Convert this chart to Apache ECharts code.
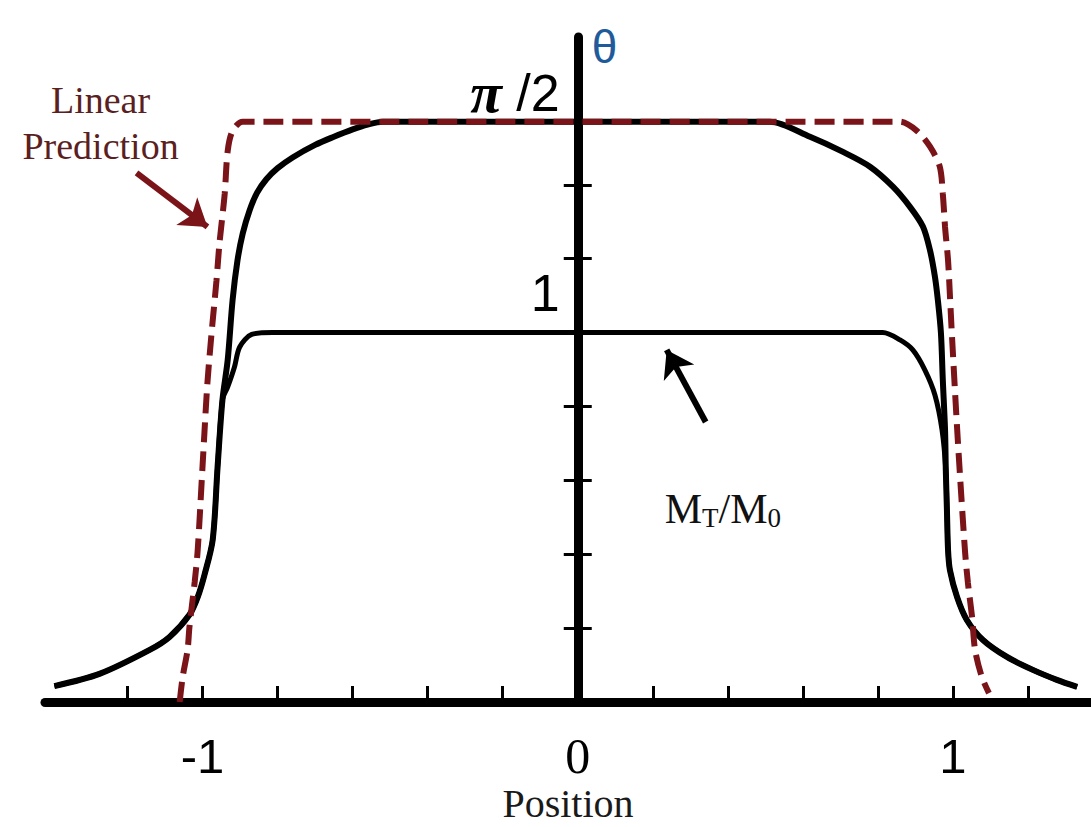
<!DOCTYPE html>
<html>
<head>
<meta charset="utf-8">
<script src="https://cdn.jsdelivr.net/npm/echarts@6/dist/echarts.min.js"></script>
<style>
  html, body { margin: 0; padding: 0; background: #ffffff; }
  #chart { width: 1091px; height: 827px; }
</style>
</head>
<body>
<div id="chart"></div>
<script>
// Tilt angle profile θ(position), reaching π/2 in the centre
const thetaProfile = [
  [-1.395, 0.043], [-1.275, 0.076], [-1.141, 0.141], [-1.088, 0.176],
  [-1.035, 0.236], [-1.013, 0.284], [-0.995, 0.344], [-0.973, 0.439],
  [-0.960, 0.636], [-0.947, 0.818], [-0.933, 0.926], [-0.920, 1.088],
  [-0.907, 1.195], [-0.893, 1.268], [-0.875, 1.330], [-0.855, 1.378],
  [-0.830, 1.415], [-0.800, 1.445], [-0.760, 1.474], [-0.700, 1.508],
  [-0.650, 1.530], [-0.600, 1.550], [-0.560, 1.563], [-0.520, 1.5708],
  [-0.470, 1.5708], [0.460, 1.5708],
  [0.512, 1.5708], [0.619, 1.530], [0.707, 1.489], [0.779, 1.449],
  [0.840, 1.395], [0.885, 1.341], [0.920, 1.287], [0.939, 1.222],
  [0.952, 1.151], [0.960, 1.086], [0.968, 0.999], [0.973, 0.872],
  [0.979, 0.736], [0.981, 0.628], [0.984, 0.520], [0.987, 0.411],
  [0.992, 0.357], [1.011, 0.284], [1.037, 0.222], [1.080, 0.168],
  [1.144, 0.122], [1.213, 0.087], [1.277, 0.060], [1.331, 0.041]
];

// Normalised magnetisation M_T/M_0, flat at 1 in the centre
const momentProfile = [
  [-1.395, 0.043], [-1.275, 0.076], [-1.141, 0.141], [-1.088, 0.176],
  [-1.035, 0.236], [-1.013, 0.284], [-0.995, 0.344], [-0.973, 0.439],
  [-0.960, 0.636], [-0.947, 0.818], [-0.933, 0.853], [-0.915, 0.907],
  [-0.901, 0.961], [-0.869, 0.995], [-0.813, 1.000], [-0.760, 1.000],
  [0.760, 1.000], [0.813, 1.000], [0.859, 0.980], [0.893, 0.953],
  [0.925, 0.899], [0.952, 0.831], [0.971, 0.736], [0.981, 0.628],
  [0.984, 0.520], [0.987, 0.411], [0.992, 0.357], [1.011, 0.284],
  [1.037, 0.222], [1.080, 0.168], [1.144, 0.122], [1.213, 0.087],
  [1.277, 0.060], [1.331, 0.041]
];

// Linear prediction of θ
const linearPrediction = [
  [-1.061, 0.000], [-1.053, 0.068], [-1.040, 0.141], [-1.035, 0.203],
  [-1.021, 0.325], [-1.013, 0.411], [-1.000, 0.640], [-0.995, 0.730],
  [-0.987, 0.865], [-0.976, 0.999], [-0.963, 1.140], [-0.955, 1.241],
  [-0.941, 1.376], [-0.933, 1.492], [-0.920, 1.546], [-0.893, 1.5708],
  [-0.840, 1.5708], [0.800, 1.5708], [0.859, 1.5708],
  [0.904, 1.546], [0.939, 1.503], [0.965, 1.449], [0.973, 1.376],
  [0.979, 1.286], [0.987, 1.195], [0.992, 1.100], [0.997, 0.999],
  [1.013, 0.709], [1.032, 0.411], [1.040, 0.322], [1.051, 0.230],
  [1.059, 0.141], [1.077, 0.068], [1.096, 0.024]
];

const xTickValues = [-1.2, -1, -0.8, -0.6, -0.4, -0.2, 0.2, 0.4, 0.6, 0.8, 1, 1.2];
const xLabelValues = [-1, 0, 1];
const yTickValues = [0.2, 0.4, 0.6, 0.8, 1.0, 1.2, 1.4];
const yLabelValues = [1, Math.PI / 2];

// Annotation anchors (data coordinates)
const predictionArrow = [[-1.176, 1.432], [-0.987, 1.286]];
const momentArrow = [[0.341, 0.758], [0.237, 0.953]];
const predictionNote = [-1.272, 1.567];
const momentNote = [0.387, 0.52];

const MAROON = '#7a1418';
const SERIF = '"Liberation Serif", "Times New Roman", serif';
const SANS = '"Liberation Sans", Arial, sans-serif';
const GRID_LEFT = 45;

function arrowLine(points, color) {
  return {
    silent: true,
    symbol: ['none', 'arrow'],
    symbolSize: 26,
    label: { show: false },
    lineStyle: { color: color, width: 6, type: 'solid' },
    itemStyle: { color: color },
    emphasis: { disabled: true },
    data: [[{ coord: points[0] }, { coord: points[1] }]]
  };
}

function noteMark(coord, text, rich) {
  return {
    silent: true,
    symbol: 'rect',
    symbolSize: 1,
    itemStyle: { color: 'rgba(0,0,0,0)' },
    emphasis: { disabled: true },
    label: { show: true, position: 'inside', formatter: text, rich: rich, align: 'center', verticalAlign: 'middle' },
    data: [{ coord: coord }]
  };
}

function yAxisBase() {
  return {
    type: 'value',
    min: 0,
    max: 1.8,
    position: 'left',
    splitLine: { show: false }
  };
}

const chart = echarts.init(document.getElementById('chart'), null, { renderer: 'svg' });

chart.setOption({
  animation: false,
  backgroundColor: '#ffffff',
  grid: { left: GRID_LEFT, right: 0, top: 37, bottom: 125, outerBoundsMode: 'none' },
  xAxis: {
    type: 'value',
    min: -1.42,
    max: 1.368,
    name: 'Position',
    nameLocation: 'middle',
    nameGap: 101,
    nameMoveOverlap: false,
    nameTextStyle: { fontFamily: SERIF, fontSize: 40, lineHeight: 38, color: '#1a1a1a', verticalAlign: 'middle' },
    axisLine: { onZero: true, lineStyle: { color: '#000', width: 9 } },
    axisTick: { show: true, inside: true, length: 16, lineStyle: { color: '#000', width: 3 }, customValues: xTickValues },
    axisLabel: {
      customValues: xLabelValues,
      margin: 34,
      formatter: v => (v === 0 ? '{z|0}' : '{d|' + v + '}'),
      rich: {
        d: { fontFamily: SANS, fontSize: 49, color: '#000', lineHeight: 40 },
        z: { fontFamily: SERIF, fontSize: 50, color: '#000', lineHeight: 40 }
      }
    },
    splitLine: { show: false }
  },
  yAxis: [
    Object.assign(yAxisBase(), {
      name: 'θ',
      nameLocation: 'end',
      nameGap: -10,
      nameMoveOverlap: false,
      nameTextStyle: { fontFamily: SANS, fontSize: 46, color: '#1f5b9b', align: 'left', verticalAlign: 'middle', padding: [0, 0, 0, 14] },
      axisLine: { onZero: false, lineStyle: { color: '#000', width: 9 } },
      axisTick: { show: true, inside: false, length: 14, lineStyle: { color: '#000', width: 3 }, customValues: yTickValues },
      axisLabel: {
        customValues: yLabelValues,
        margin: 18,
        formatter: v => (v === 1 ? '{d|1}' : '{p|π}{s| /2}'),
        rich: {
          d: { fontFamily: SANS, fontSize: 52, color: '#000', lineHeight: 52, padding: [0, 0, 80, 0] },
          p: { fontFamily: SERIF, fontStyle: 'italic', fontWeight: 'bold', fontSize: 58, color: '#000', lineHeight: 52, padding: [0, 0, 58, 0] },
          s: { fontFamily: SANS, fontSize: 52, color: '#000', lineHeight: 52, padding: [0, 0, 58, 0] }
        }
      }
    }),
    Object.assign(yAxisBase(), {
      axisLine: { show: false, onZero: false },
      axisTick: { show: true, inside: true, length: 14, lineStyle: { color: '#000', width: 3 }, customValues: yTickValues },
      axisLabel: { show: false }
    })
  ],
  series: [
    {
      name: 'M_T/M_0',
      type: 'line',
      data: momentProfile,
      symbol: 'none',
      smooth: 0.3,
      lineStyle: { color: '#000', width: 5 },
      z: 2,
      markLine: arrowLine(momentArrow, '#000'),
      markPoint: noteMark(momentNote, '{m|M}{s|T}{m|/M}{s|0}', {
        m: { fontFamily: SERIF, fontSize: 42, color: '#111', lineHeight: 44, verticalAlign: 'top' },
        s: { fontFamily: SERIF, fontSize: 27, color: '#111', lineHeight: 27, verticalAlign: 'bottom', padding: [22, 0, 0, 0] }
      })
    },
    {
      name: 'θ',
      type: 'line',
      data: thetaProfile,
      symbol: 'none',
      smooth: 0.3,
      lineStyle: { color: '#000', width: 6 },
      z: 3
    },
    {
      name: 'Linear Prediction',
      type: 'line',
      data: linearPrediction,
      symbol: 'none',
      smooth: 0.3,
      lineStyle: { color: MAROON, width: 6, type: [20, 9] },
      z: 4,
      markLine: arrowLine(predictionArrow, MAROON),
      markPoint: noteMark(predictionNote, '{t|Linear}\n{t|Prediction}', {
        t: { fontFamily: SERIF, fontSize: 38, color: '#5b1f1f', lineHeight: 46, align: 'center' }
      })
    }
  ]
});

// Slide the vertical axis (line, ticks and labels) onto position = 0
const zeroX = chart.convertToPixel({ xAxisIndex: 0 }, 0);
chart.setOption({
  yAxis: [{ offset: GRID_LEFT - zeroX }, { offset: GRID_LEFT - zeroX }]
});
</script>
</body>
</html>
